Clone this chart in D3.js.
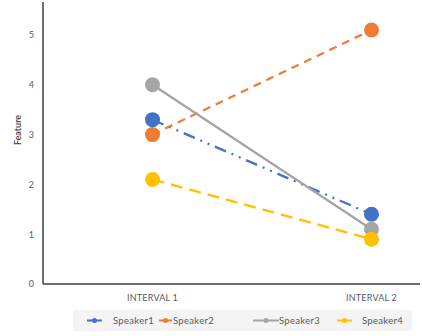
<!DOCTYPE html>
<meta charset="utf-8">
<style>
	body { margin: 0; background: #fff; }
	text { font-family: Lato, "Open Sans", sans-serif; fill: #595959; }
	.tick text { font-size: 9px; }
	.cat { font-size: 9px; letter-spacing: 0.2px; }
	.legend text { font-size: 9.5px; letter-spacing: 0.3px; }
</style>
<body>
<script src="https://cdn.jsdelivr.net/npm/d3@7"></script>
<script>
var width = 422,
    height = 336;

var categories = ["INTERVAL 1", "INTERVAL 2"];
var speakers = ["Speaker1", "Speaker2", "Speaker3", "Speaker4"];
var speaker1 = [3.3, 1.4];
var speaker2 = [3.0, 5.1];
var speaker3 = [4.0, 1.1];
var speaker4 = [2.1, 0.9];
var yTicks = [0, 1, 2, 3, 4, 5];

var colors = ["#4472c4", "#ed7d31", "#a5a5a5", "#ffc000"];
var dashes = ["12,6,2,6,2,6", "8,6", null, "12,7"];

var series = [speaker1, speaker2, speaker3, speaker4].map(function(v, i) {
  return { name: speakers[i], values: v, color: colors[i], dash: dashes[i] };
});

var svg = d3.select("body").append("svg")
    .attr("width", width)
    .attr("height", height);

var x = d3.scalePoint().domain(categories).range([43, 481]).padding(0.5);
var y = d3.scaleLinear().domain([0, 5]).range([284, 35]);

// y axis
svg.append("line")
    .attr("x1", 43).attr("x2", 43)
    .attr("y1", 2).attr("y2", y(0))
    .attr("stroke", "#404040").attr("stroke-width", 1.5);

svg.append("g")
    .attr("transform", "translate(34,0)")
    .call(d3.axisLeft(y).tickValues(yTicks).tickSize(0).tickPadding(0).tickFormat(d3.format("d")))
    .call(function(g) { g.select(".domain").remove(); });

svg.append("text")
    .attr("transform", "translate(21,130) rotate(-90)")
    .attr("text-anchor", "middle")
    .style("font-size", "9px")
    .style("font-weight", "600")
    .style("fill", "#404040")
    .text("Feature");

// x axis
svg.append("line")
    .attr("x1", 43).attr("x2", 420)
    .attr("y1", y(0)).attr("y2", y(0))
    .attr("stroke", "#404040").attr("stroke-width", 1.5);

svg.selectAll(".cat").data(categories)
  .enter().append("text")
    .attr("class", "cat")
    .attr("x", function(d) { return x(d); })
    .attr("y", 301)
    .attr("text-anchor", "middle")
    .text(function(d) { return d; });

// series
var line = d3.line()
    .x(function(d, i) { return x(categories[i]); })
    .y(function(d) { return y(d); });

series.forEach(function(s) {
  var g = svg.append("g");
  g.append("path")
      .attr("d", line(s.values))
      .attr("fill", "none")
      .attr("stroke", s.color)
      .attr("stroke-width", 2.25)
      .attr("stroke-dasharray", s.dash);
  g.selectAll("circle").data(s.values)
    .enter().append("circle")
      .attr("cx", function(d, i) { return x(categories[i]); })
      .attr("cy", function(d) { return y(d); })
      .attr("r", 7.5)
      .attr("fill", s.color);
});

// legend
var legend = svg.append("g").attr("class", "legend");
legend.append("rect")
    .attr("x", 73).attr("y", 310)
    .attr("width", 339).attr("height", 21)
    .attr("fill", "#f4f4f4");

var legendX = [87, 159, 253, 337];
var legendLen = [15, 13, 26, 15];
var textX = [113, 173, 279, 362];

series.forEach(function(s, i) {
  var g = legend.append("g");
  g.append("line")
      .attr("x1", legendX[i]).attr("x2", legendX[i] + legendLen[i])
      .attr("y1", 320.5).attr("y2", 320.5)
      .attr("stroke", s.color).attr("stroke-width", 2);
  g.append("circle")
      .attr("cx", legendX[i] + legendLen[i] / 2)
      .attr("cy", 320.5)
      .attr("r", 2.5)
      .attr("fill", s.color);
  g.append("text")
      .attr("x", textX[i])
      .attr("y", 324)
      .text(s.name);
});
</script>
</body>
